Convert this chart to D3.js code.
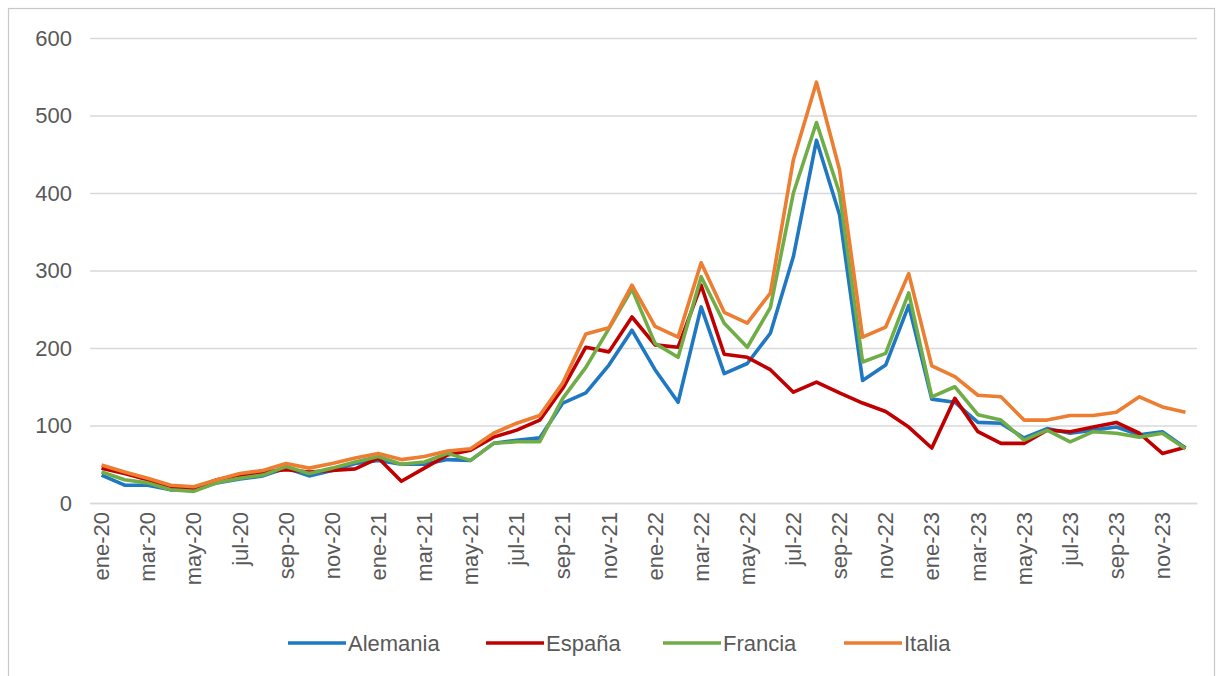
<!DOCTYPE html>
<html lang="es">
<head>
<meta charset="utf-8">
<title>Alemania, España, Francia, Italia</title>
<script src="https://cdn.jsdelivr.net/npm/d3@7"></script>
<style>
  html, body { margin: 0; padding: 0; background: #fff; }
  svg { display: block; font-family: "Liberation Sans", Arial, sans-serif; }
</style>
</head>
<body>
<svg id="chart" width="1223" height="676"></svg>
<script>
// ── Data ──────────────────────────────────────────────────────────────────────

const months = [
  'ene-20','feb-20','mar-20','abr-20','may-20','jun-20','jul-20','ago-20','sep-20','oct-20','nov-20','dic-20',
  'ene-21','feb-21','mar-21','abr-21','may-21','jun-21','jul-21','ago-21','sep-21','oct-21','nov-21','dic-21',
  'ene-22','feb-22','mar-22','abr-22','may-22','jun-22','jul-22','ago-22','sep-22','oct-22','nov-22','dic-22',
  'ene-23','feb-23','mar-23','abr-23','may-23','jun-23','jul-23','ago-23','sep-23','oct-23','nov-23','dic-23'
];

const alemania = [
  36, 23, 23, 17, 17, 26, 31, 35, 45, 35, 42, 51,
  55, 50, 50, 56, 55, 77, 81, 84, 129, 142, 178, 223,
  172, 130, 253, 167, 180, 219, 318, 468, 372, 158, 178, 255,
  134, 130, 104, 103, 84, 96, 90, 94, 98, 88, 92, 71
];
const espana = [
  45, 38, 30, 21, 19, 30, 36, 40, 43, 40, 42, 44,
  58, 28, 45, 62, 68, 85, 94, 107, 148, 201, 195, 240,
  204, 201, 281, 192, 188, 172, 143, 156, 142, 129, 118, 98,
  71, 135, 92, 77, 77, 94, 92, 98, 104, 90, 64, 72
];
const francia = [
  40, 30, 26, 17, 15, 26, 32, 36, 47, 38, 45, 53,
  60, 50, 53, 64, 55, 77, 79, 79, 135, 175, 225, 276,
  206, 188, 292, 232, 201, 252, 400, 491, 400, 182, 193, 271,
  137, 150, 114, 107, 81, 94, 79, 92, 90, 85, 90, 70
];
const italia = [
  49, 40, 32, 23, 21, 30, 38, 42, 51, 45, 51, 58,
  64, 56, 60, 67, 70, 90, 103, 113, 155, 218, 226, 281,
  228, 214, 310, 246, 232, 271, 443, 543, 430, 214, 227, 296,
  177, 163, 139, 137, 107, 107, 113, 113, 117, 137, 124, 117
];

const seriesNames  = ['Alemania', 'España', 'Francia', 'Italia'];
const seriesValues = [alemania, espana, francia, italia];
const seriesColors = ['#1f78c1', '#c00000', '#70ad47', '#ed7d31'];
const yTicks = [0, 100, 200, 300, 400, 500, 600];

// ── Layout ────────────────────────────────────────────────────────────────────

const plot = { left: 90, right: 1197, top: 38, bottom: 503 };
const textColor = '#595959';

const svg = d3.select('#chart');

// frame round the chart area
svg.append('rect')
  .attr('x', 8.5).attr('y', 8.5)
  .attr('width', 1206).attr('height', 680)
  .attr('fill', 'none')
  .attr('stroke', '#c8c8c8')
  .attr('stroke-width', 1.2);

const x = d3.scaleBand()
  .domain(months)
  .range([plot.left, plot.right])
  .padding(0);

const y = d3.scaleLinear()
  .domain([0, 600])
  .range([plot.bottom, plot.top]);

const cx = m => x(m) + x.bandwidth() / 2;

// ── Grid + y axis ─────────────────────────────────────────────────────────────

const yAxis = d3.axisLeft(y)
  .tickValues(yTicks)
  .tickSize(-(plot.right - plot.left))
  .tickPadding(18);

const gy = svg.append('g')
  .attr('transform', `translate(${plot.left},0)`)
  .call(yAxis);

gy.select('.domain').remove();
gy.selectAll('.tick line')
  .attr('stroke', '#d9d9d9')
  .attr('stroke-width', 1.5);
gy.selectAll('.tick text')
  .attr('fill', textColor)
  .attr('font-size', 22);

// ── X axis ────────────────────────────────────────────────────────────────────

const xAxis = d3.axisBottom(x)
  .tickValues(months.filter((_, i) => i % 2 === 0))
  .tickSize(0);

const gx = svg.append('g')
  .attr('transform', `translate(0,${plot.bottom})`)
  .call(xAxis);

gx.select('.domain')
  .attr('stroke', '#d9d9d9')
  .attr('stroke-width', 1.5);
gx.selectAll('.tick text')
  .attr('fill', textColor)
  .attr('font-size', 22)
  .attr('text-anchor', 'end')
  .attr('transform', 'translate(0,9) rotate(-90)')
  .attr('x', 0)
  .attr('y', 0)
  .attr('dy', '0.35em');

// ── Lines ─────────────────────────────────────────────────────────────────────

const line = d3.line()
  .x((_, i) => cx(months[i]))
  .y(d => y(d));

svg.append('g')
  .selectAll('path')
  .data(seriesValues)
  .enter().append('path')
    .attr('d', line)
    .attr('fill', 'none')
    .attr('stroke', (_, i) => seriesColors[i])
    .attr('stroke-width', 3.6)
    .attr('stroke-linejoin', 'round');

// ── Legend ────────────────────────────────────────────────────────────────────

const legendX = [288, 486, 663, 844];
const legendY = 643;

const item = svg.append('g')
  .selectAll('g')
  .data(seriesNames)
  .enter().append('g')
    .attr('transform', (_, i) => `translate(${legendX[i]},${legendY})`);

item.append('line')
  .attr('x1', 0).attr('x2', 58)
  .attr('stroke', (_, i) => seriesColors[i])
  .attr('stroke-width', 3.6);

item.append('text')
  .attr('x', 60)
  .attr('dy', '0.35em')
  .attr('fill', textColor)
  .attr('font-size', 22)
  .text(d => d);
</script>
</body>
</html>
